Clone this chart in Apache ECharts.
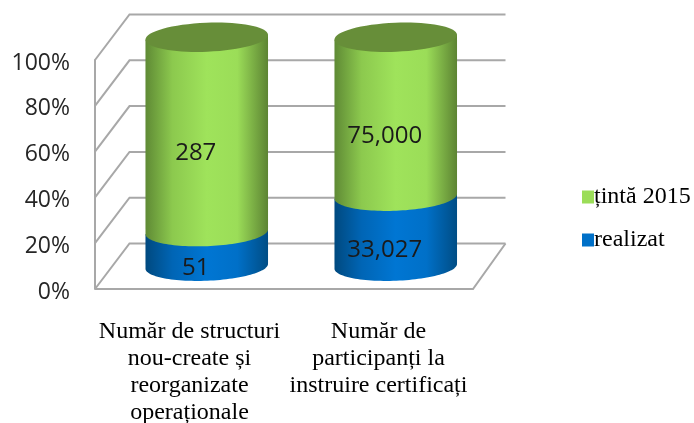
<!DOCTYPE html>
<html>
<head>
<meta charset="utf-8">
<style>html,body{margin:0;padding:0;background:#fff}#chart{width:694px;height:423px}</style>
<script src="https://cdn.jsdelivr.net/npm/echarts@6/dist/echarts.min.js"></script>
</head>
<body>
<div id="chart"></div>
<script>
const categories = [
  'Număr de structuri\nnou-create și\nreorganizate\noperaționale',
  'Număr de\nparticipanți la\ninstruire certificați'
]
const realizat = [51, 33027]
const tinta = [287, 75000]
const realizatLabels = ['51', '33,027']
const tintaLabels = ['287', '75,000']
const percentTicks = [0, 20, 40, 60, 80, 100]

const gridColor = '#a8a8a8'
const serifFont = '"Liberation Serif", serif'
const sansFont = '"Open Sans", sans-serif'
// oblica peretilor, in px
const depthX = 34.5
const depthY = -45.5
const tilt = -2.3 * Math.PI / 180

// coloanele sunt stivuite la 100%
const realizatData = realizat.map((v, i) => [i, 0, v / (v + tinta[i]) * 100])
const tintaData = tinta.map((v, i) => [i, realizat[i] / (v + realizat[i]) * 100, 100])

function ellipsePoint(cx, cy, rx, ry, t) {
  const a = rx * Math.cos(t)
  const b = ry * Math.sin(t)
  return [cx + a * Math.cos(tilt) - b * Math.sin(tilt), cy + a * Math.sin(tilt) + b * Math.cos(tilt)]
}

function sideGradient(stops) {
  return {
    type: 'linear', x: 0, y: 0, x2: 1, y2: 0,
    colorStops: stops.map((c, i) => ({ offset: [0, 0.22, 0.5, 0.75, 1][i], color: c }))
  }
}

function cylinderItem(labels, stops, capColor) {
  return function(params, api) {
    const width = api.size([1, 0])[0]
    const rx = width * 0.3245
    const ry = rx * 0.236
    const bottom = api.coord([api.value(0), api.value(1)])
    const top = api.coord([api.value(0), api.value(2)])
    const cx = bottom[0] + depthX / 2
    const yBottom = bottom[1] + depthY / 2
    const yTop = top[1] + depthY / 2
    const points = [ellipsePoint(cx, yTop, rx, ry, Math.PI)]
    for (let k = 0; k <= 60; k++) {
      points.push(ellipsePoint(cx, yBottom, rx, ry, Math.PI - k / 60 * Math.PI))
    }
    points.push(ellipsePoint(cx, yTop, rx, ry, 0))
    const children = [{
      type: 'polygon',
      shape: { points },
      style: { fill: sideGradient(stops) }
    }]
    if (capColor) {
      children.push({
        type: 'ellipse',
        shape: { cx: 0, cy: 0, rx, ry },
        x: cx,
        y: yTop,
        rotation: -tilt,
        style: { fill: capColor }
      })
    }
    children.push({
      type: 'text',
      style: {
        x: cx - 11,
        y: (yTop + yBottom) / 2 + 19,
        text: labels[params.dataIndex],
        fill: '#1a1a1a',
        font: '24px ' + sansFont,
        align: 'center',
        verticalAlign: 'middle'
      }
    })
    return { type: 'group', children }
  }
}

// pereti si podea, cate o linie pentru fiecare diviziune
function wallItem(params, api) {
  const v = api.value(0)
  const width = api.size([1, 0])[0]
  const c = api.coord([0, v])
  const left = c[0] - width / 2
  const right = left + width * categories.length
  const y = c[1]
  const style = { stroke: gridColor, lineWidth: 2, fill: 'none' }
  const points = [[left, y], [left + depthX, y + depthY], [right + depthX - 2, y + depthY]]
  const children = [{ type: 'polyline', shape: { points }, style }]
  if (v === 0) {
    children.push({
      type: 'polyline',
      shape: { points: [[left, y], [right, y], [right + depthX - 2, y + depthY]] },
      style
    })
  }
  return { type: 'group', children }
}

const chart = echarts.init(document.getElementById('chart'), null, { renderer: 'canvas' })
chart.setOption({
  animation: false,
  backgroundColor: '#fff',
  grid: { left: 95, top: 60, width: 378, height: 229, outerBoundsMode: 'none' },
  legend: {
    data: ['țintă 2015', 'realizat'],
    orient: 'vertical',
    left: 577,
    top: 180,
    itemWidth: 12,
    itemHeight: 13,
    itemGap: 19,
    icon: 'rect',
    selectedMode: false,
    textStyle: { fontFamily: serifFont, fontSize: 24, color: '#000', padding: [0, 0, 0, -5] }
  },
  xAxis: {
    type: 'category',
    data: categories,
    axisLine: { show: false },
    axisTick: { show: false },
    axisLabel: {
      interval: 0,
      margin: 29,
      fontFamily: serifFont,
      fontSize: 24,
      lineHeight: 27,
      color: '#000'
    }
  },
  yAxis: {
    type: 'value',
    min: 0,
    max: 100,
    interval: 20,
    axisLine: { show: true, lineStyle: { color: gridColor, width: 2 } },
    axisTick: { show: false },
    splitLine: { show: false },
    axisLabel: {
      formatter: '{t|{value}%}',
      margin: 25,
      rich: {
        t: { fontFamily: sansFont, fontSize: 23, color: '#262626', padding: [6, 0, 0, 0] }
      }
    }
  },
  series: [
    {
      type: 'custom',
      name: 'pereti',
      silent: true,
      z: 1,
      data: percentTicks.map(v => [v]),
      encode: { y: 0 },
      renderItem: wallItem
    },
    {
      type: 'custom',
      name: 'realizat',
      z: 2,
      itemStyle: { color: '#0070c8' },
      data: realizatData,
      encode: { x: 0, y: [1, 2] },
      renderItem: cylinderItem(realizatLabels, ['#00497f', '#0065b5', '#0076d3', '#0070c8', '#004d85'])
    },
    {
      type: 'custom',
      name: 'țintă 2015',
      z: 3,
      itemStyle: { color: '#9bdd58' },
      data: tintaData,
      encode: { x: 0, y: [1, 2] },
      renderItem: cylinderItem(tintaLabels, ['#5f8a35', '#8cc94e', '#9fe35b', '#9bdd58', '#5d8433'], '#678e39')
    }
  ]
})
</script>
</body>
</html>
